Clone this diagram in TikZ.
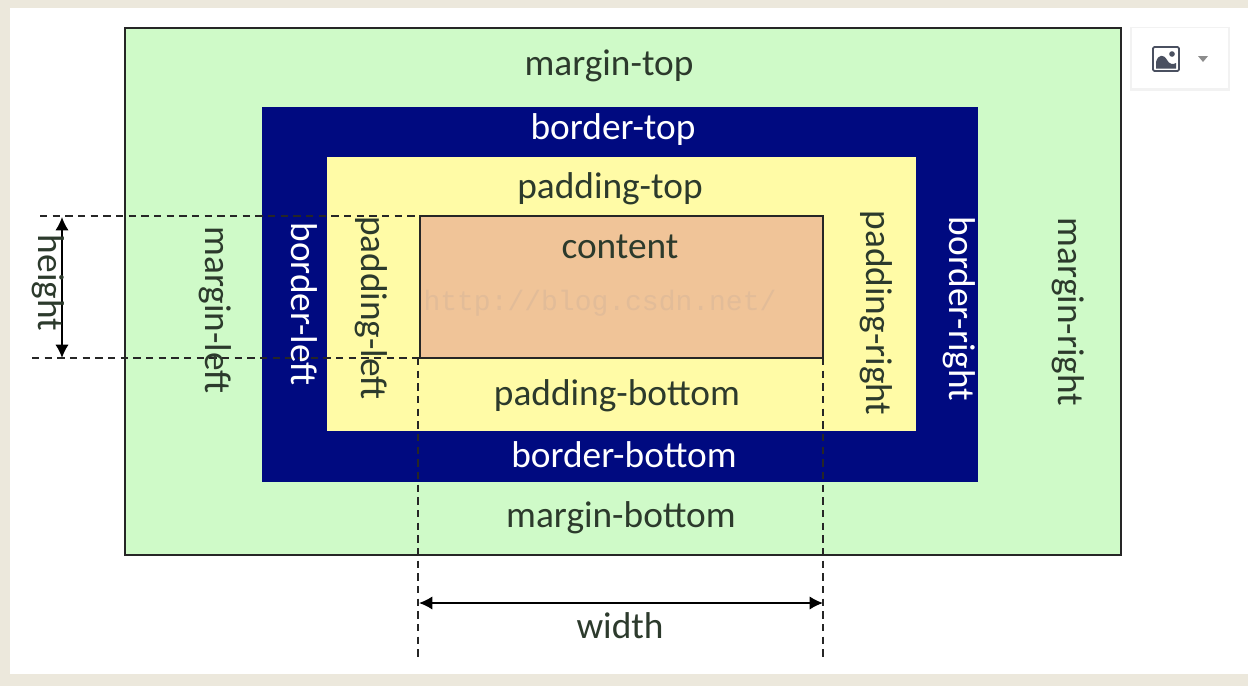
\documentclass[tikz,border=0pt]{standalone}
\usepackage{fontspec}
\setmainfont{Carlito}
\setmonofont{Liberation Mono}
\usetikzlibrary{arrows.meta,shadows}
\definecolor{frameBeige}{HTML}{ECE8DC}
\definecolor{marginGreen}{HTML}{CFFAC8}
\definecolor{borderNavy}{HTML}{000A80}
\definecolor{paddingYellow}{HTML}{FFFBA6}
\definecolor{contentTan}{HTML}{F0C498}
\definecolor{watermarkTan}{HTML}{E2BC98}
\definecolor{textDark}{HTML}{2C3A2C}
\definecolor{iconGrey}{HTML}{4A5060}
\tikzset{
  x=0.75pt,y=-0.75pt,
  lbl/.style={font=\fontsize{28}{30}\selectfont,text=textDark,inner sep=0pt},
  lblw/.style={font=\fontsize{28}{30}\selectfont,text=white,inner sep=0pt},
  guide/.style={draw=black!85,line width=1.1pt,dash pattern=on 5.5pt off 4pt},
  dim/.style={draw=black,line width=1.3pt,{Latex[length=10pt,width=10pt]}-{Latex[length=10pt,width=10pt]}},
}
\begin{document}
\begin{tikzpicture}
\useasboundingbox (0,0) rectangle (1248,686);
\fill[frameBeige] (0,0) rectangle (1248,686);
\fill[white] (10,8) rectangle (1248,674);
% boxes
\filldraw[fill=marginGreen,draw=black!85,line width=1pt] (125,28) rectangle (1121,555);
\fill[borderNavy] (262,107) rectangle (978,482);
\fill[paddingYellow] (327,157) rectangle (916,431);
\filldraw[fill=contentTan,draw=black!85,line width=1pt] (420,216) rectangle (823,358);
% guides
\coordinate (hTopL) at (40,216); \coordinate (hTopR) at (420,216);
\coordinate (hBotL) at (32,358); \coordinate (hBotR) at (420,358);
\coordinate (wLeftT) at (418,358); \coordinate (wLeftB) at (418,658);
\coordinate (wRightT) at (823,358); \coordinate (wRightB) at (823,660);
\draw[guide] (hTopL) -- (hTopR);
\draw[guide] (hBotL) -- (hBotR);
\draw[guide] (wLeftT) -- (wLeftB);
\draw[guide] (wRightT) -- (wRightB);
% dimension arrows
\coordinate (hA) at (62,217); \coordinate (hB) at (62,358);
\coordinate (wA) at (419,603); \coordinate (wB) at (823,603);
\draw[dim] (hA) -- (hB);
\draw[dim] (wA) -- (wB);
% watermark
\node[font=\ttfamily\fontsize{21}{24}\selectfont,text=watermarkTan,inner sep=0pt] (wm) at (600,303) {http://blog.csdn.net/};
% labels
\node[lbl] (mt) at (609,66) {margin-top};
\node[lbl] (mb) at (621,518) {margin-bottom};
\node[lbl,rotate=-90] (ml) at (215,310) {margin-left};
\node[lbl,rotate=-90] (mr) at (1068,312) {margin-right};
\node[lblw] (bt) at (613,130) {border-top};
\node[lblw] (bb) at (624,455) {border-bottom};
\node[lblw,rotate=-90] (bl) at (304,304) {border-left};
\node[lblw,rotate=-90] (br) at (959,309) {border-right};
\node[lbl] (pt) at (610,189) {padding-top};
\node[lbl] (pb) at (617,396) {padding-bottom};
\node[lbl,rotate=-90] (pl) at (371,308) {padding-left};
\node[lbl,rotate=-90] (pr) at (876,313) {padding-right};
\node[lbl] (ct) at (620,247) {content};
\node[lbl,rotate=-90] (ht) at (48,283) {height};
\node[lbl] (wd) at (620,626) {width};
% image button
\fill[black!5] (1130,27) rectangle (1230,91);
\fill[white] (1132,28) rectangle (1228,88);
\draw[iconGrey,line width=1.3pt,rounded corners=1pt] (1153,47) rectangle (1179,71);
\fill[iconGrey] (1172,54) circle (2.8);
\fill[iconGrey] (1156,68.5) -- (1156,62) .. controls (1158,54) and (1164,54) .. (1167,60) .. controls (1169,64) and (1173,65) .. (1176,63) -- (1176,68.5) -- cycle;
\fill[black!45] (1198,56) -- (1208,56) -- (1203,62) -- cycle;
\end{tikzpicture}
\end{document}
